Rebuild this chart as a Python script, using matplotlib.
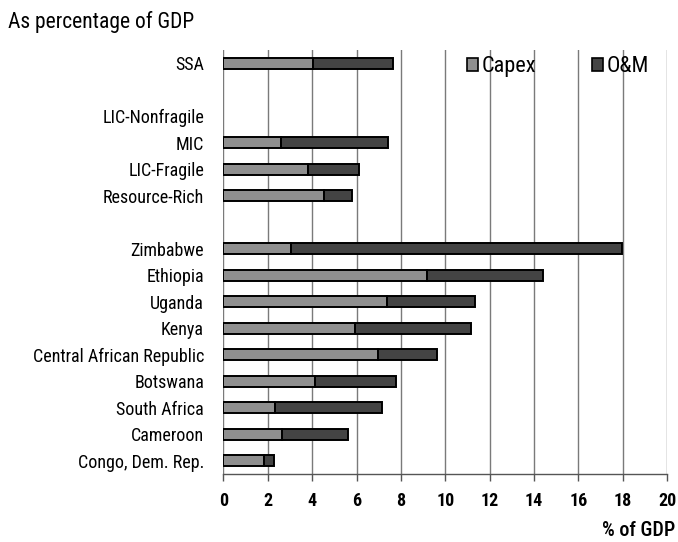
import matplotlib
matplotlib.use("Agg")
import matplotlib.pyplot as plt
import numpy as np

plt.rcParams['font.family'] = ['Roboto Condensed', 'Archivo Narrow', 'DejaVu Sans']

categories = ["SSA", "", "LIC-Nonfragile", "MIC", "LIC-Fragile", "Resource-Rich", "",
              "Zimbabwe", "Ethiopia", "Uganda", "Kenya", "Central African Republic",
              "Botswana", "South Africa", "Cameroon", "Congo, Dem. Rep."]
capex = [4.02, np.nan, np.nan, 2.58, 3.83, 4.53, np.nan,
         3.03, 9.16, 7.36, 5.93, 6.99, 4.13, 2.34, 2.65, 1.84]
om = [3.64, np.nan, np.nan, 4.86, 2.28, 1.27, np.nan,
      14.96, 5.27, 3.96, 5.24, 2.63, 3.65, 4.79, 2.95, 0.44]
xticks = [0, 2, 4, 6, 8, 10, 12, 14, 16, 18, 20]

capex_color = "#8f8f8f"
om_color = "#444444"
label_size = 13

fig = plt.figure(figsize=(6.78, 5.42), dpi=100)
ax = fig.add_axes([0.3296, 0.1255, 0.6542, 0.7822])

y = np.arange(len(categories))
cap = np.array(capex, dtype=float)
om_v = np.array(om, dtype=float)
has = ~np.isnan(cap)
bh = 0.42
ax.barh(y[has], cap[has], height=bh, color=capex_color, edgecolor="black",
        linewidth=1.4, label="Capex", zorder=3)
ax.barh(y[has], om_v[has], left=cap[has], height=bh, color=om_color,
        edgecolor="black", linewidth=1.4, label="O&M", zorder=3)

ax.set_ylim(len(categories) - 0.5, -0.5)
ax.set_xlim(0, 20)
ax.set_yticks(y)
ax.set_yticklabels(categories, fontsize=label_size)
ax.tick_params(axis="y", length=0, pad=14)
ax.set_xticks(xticks)
ax.set_xticklabels([str(t) for t in xticks], fontsize=label_size, fontweight="semibold")
ax.tick_params(axis="x", length=5, width=1, color="#555555", pad=8)

ax.grid(axis="x", color="#7a7a7a", linewidth=1.0, zorder=0)
ax.set_axisbelow(True)
for s in ["top", "right", "left"]:
    ax.spines[s].set_visible(False)
ax.spines["bottom"].set_color("#555555")
ax.spines["bottom"].set_linewidth(1.0)

leg = ax.legend(loc="upper left", bbox_to_anchor=(0.549, 0.985), ncol=2,
                frameon=False, fontsize=16, handlelength=0.5, handleheight=0.5,
                handletextpad=0.17, columnspacing=2.5, borderaxespad=0,
                borderpad=0)
for h in leg.legend_handles:
    h.set_linewidth(1.2)

fig.text(8 / 678, 1 - 22 / 542, "As percentage of GDP", fontsize=15.5,
         va="center", ha="left")
fig.text(675 / 678, 1 - 531 / 542, "% of GDP", fontsize=14.5, fontweight="medium",
         va="center", ha="right")

fig.savefig("out.png", dpi=100)
